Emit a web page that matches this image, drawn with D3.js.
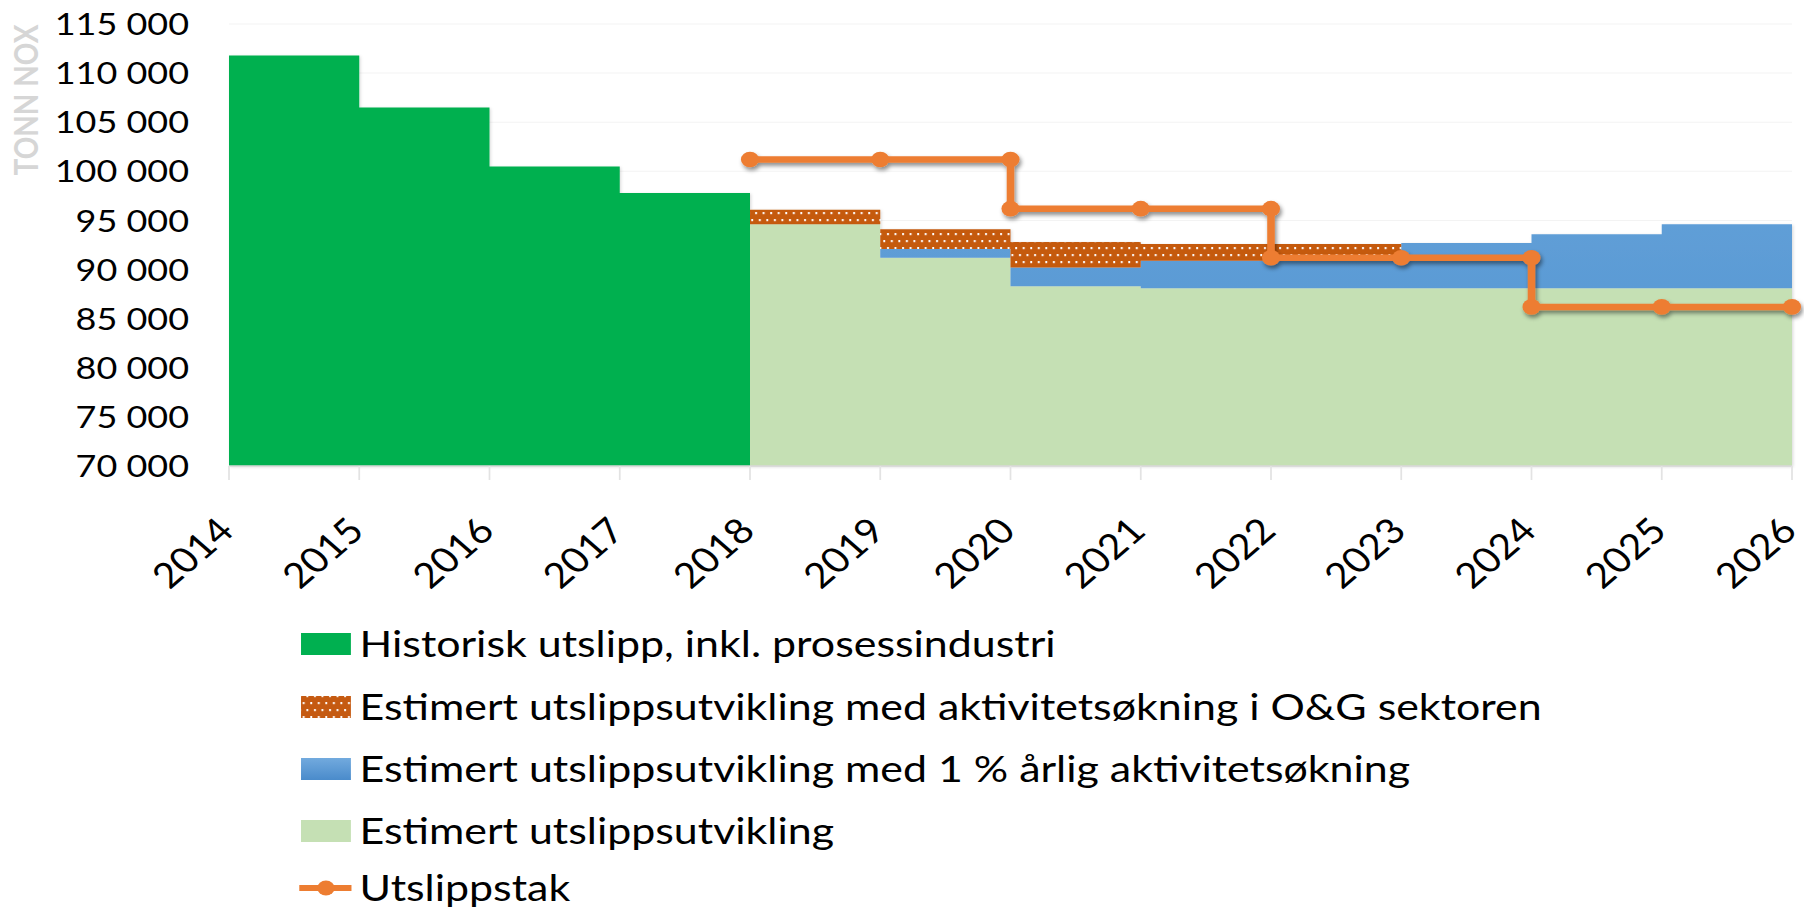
<html lang="en">
<head>
<meta charset="utf-8">
<script src="https://cdn.jsdelivr.net/npm/d3@7"></script>
<style>
body{margin:0;background:#fff;}
svg{display:block;font-family:Lato,"Open Sans",sans-serif;}
</style>
</head>
<body>
<div id="chart"></div>
<script>
// data
const years=[2014,2015,2016,2017,2018,2019,2020,2021,2022,2023,2024,2025,2026]
const historisk=[111800,106500,100500,97800,0,0,0,0,0,0,0,0,0]
const estimert=[0,0,0,0,94600,91200,88300,88100,88100,88100,88100,88100,88100]
// increments stacked on top of estimert
const ettProsent=[0,0,0,0,0,900,1900,2800,2900,4600,5500,6500,6500]
const oljeGass=[0,0,0,0,1500,2000,2600,1700,1600,0,0,0,0]
// emission cap, with the drop points twice
const takYear=[2018,2019,2020,2020,2021,2022,2022,2023,2024,2024,2025,2026]
const takVal=[101200,101200,101200,96200,96200,96200,91200,91200,91200,86200,86200,86200]
const yTicks=[70000,75000,80000,85000,90000,95000,100000,105000,110000,115000]
const legendNames=["Historisk utslipp, inkl. prosessindustri","Estimert utslippsutvikling med aktivitetsøkning i O&G sektoren","Estimert utslippsutvikling med 1 % årlig aktivitetsøkning","Estimert utslippsutvikling","Utslippstak"]

const W=1804,H=911
const SX=1.16 // the original picture is stretched sideways
const pLeft=229/SX,pRight=1792/SX,pTop=24,pBottom=466

const svg=d3.select("#chart").append("svg").attr("width",W).attr("height",H)
const defs=svg.append("defs")
let pat=defs.append("pattern").attr("id","dots").attr("patternUnits","userSpaceOnUse").attr("width",6.5).attr("height",14)
pat.append("rect").attr("width",6.5).attr("height",14).attr("fill","#C55A11")
pat.append("rect").attr("x",1).attr("y",2).attr("width",1.6).attr("height",2.2).attr("fill","#fff")
pat.append("rect").attr("x",4.2).attr("y",9).attr("width",1.6).attr("height",2.2).attr("fill","#fff")
let grad=defs.append("linearGradient").attr("id","blueg").attr("x1",0).attr("y1",0).attr("x2",0).attr("y2",1)
grad.append("stop").attr("offset","0%").attr("stop-color","#6CA7DC")
grad.append("stop").attr("offset","100%").attr("stop-color","#5B9BD5")
let lgrad=defs.append("linearGradient").attr("id","bluel").attr("x1",0).attr("y1",0).attr("x2",0).attr("y2",1)
lgrad.append("stop").attr("offset","0%").attr("stop-color","#72AADE")
lgrad.append("stop").attr("offset","100%").attr("stop-color","#4A8BCB")
defs.append("filter").attr("id","shadow").attr("x","-20%").attr("y","-20%").attr("width","140%").attr("height","160%")
  .append("feDropShadow").attr("dx",1.5).attr("dy",3).attr("stdDeviation",2).attr("flood-color","#000").attr("flood-opacity",0.45)
defs.append("filter").attr("id","soft").attr("x","-5%").attr("y","-5%").attr("width","110%").attr("height","110%")
  .append("feDropShadow").attr("dx",1).attr("dy",1).attr("stdDeviation",1.5).attr("flood-color","#000").attr("flood-opacity",0.15)

const g=svg.append("g").attr("transform","scale("+SX+",1)")

const x=d3.scaleLinear().domain([2014,2026]).range([pLeft,pRight])
const y=d3.scaleLinear().domain([70000,115000]).range([pBottom,pTop]).clamp(true)

// gridlines
g.append("g").selectAll("line").data(yTicks).join("line")
  .attr("x1",pLeft).attr("x2",pRight).attr("y1",d=>y(d)).attr("y2",d=>y(d))
  .attr("stroke","#f3f3f3").attr("stroke-width",1)

// stacked areas
const rows=years.map((yr,i)=>({year:yr,hist:historisk[i],est:estimert[i],pct:ettProsent[i],og:oljeGass[i]}))
const stack=d3.stack().keys(["hist","est","pct","og"])(rows)
const fills={hist:"#00B050",est:"#C5E0B4",pct:"url(#blueg)",og:"url(#dots)"}
const area=d3.area().curve(d3.curveStepAfter).x(d=>x(d.data.year)).y0(d=>y(d[0])).y1(d=>y(d[1]))
g.append("g").attr("filter","url(#soft)").selectAll("path").data(stack).join("path")
  .attr("d",area).attr("fill",d=>fills[d.key])

// x axis
g.append("line").attr("x1",pLeft).attr("x2",pRight).attr("y1",pBottom).attr("y2",pBottom).attr("stroke","#d9d9d9").attr("stroke-width",1.5)
g.append("g").selectAll("line").data(years).join("line")
  .attr("x1",d=>x(d)).attr("x2",d=>x(d)).attr("y1",pBottom).attr("y2",pBottom+14).attr("stroke","#e3e3e3").attr("stroke-width",1.5)
g.append("g").selectAll("text").data(years).join("text")
  .attr("transform",d=>"translate("+(x(d)+6)+",533) rotate(-45)")
  .attr("text-anchor","end").style("font-size","35px").attr("fill","#000").text(d=>d)

// y axis labels
const fmt=v=>d3.format(",")(v).replace(","," ")
g.append("g").selectAll("text").data(yTicks).join("text")
  .attr("x",163).attr("y",d=>y(d)).attr("dy","0.36em").attr("text-anchor","end")
  .style("font-size","31px").attr("fill","#000").text(fmt)
g.append("text").attr("transform","translate(23,100) rotate(-90)").attr("text-anchor","middle").attr("dy","0.36em")
  .style("font-size","28px").style("font-weight","bold").attr("fill","#d6d6d6").text("TONN NOX")

// cap line
const line=d3.line().x((d,i)=>x(takYear[i])).y(d=>y(d))
const cap=g.append("g").attr("filter","url(#shadow)")
cap.append("path").attr("d",line(takVal)).attr("fill","none").attr("stroke","#ED7D31").attr("stroke-width",6.5)
cap.selectAll("ellipse").data(takVal).join("ellipse")
  .attr("cx",(d,i)=>x(takYear[i])).attr("cy",d=>y(d)).attr("rx",7.8).attr("ry",7.8).attr("fill","#ED7D31")

// legend
const lg=g.append("g")
const swFill=["#00B050","url(#dots)","url(#bluel)","#C5E0B4"]
const rowY=[644,707,769,831,888]
legendNames.forEach((n,i)=>{
  if(i<4){lg.append("rect").attr("x",259.5).attr("y",rowY[i]-11).attr("width",43).attr("height",22).attr("fill",swFill[i])}
  else{
    lg.append("line").attr("x1",258).attr("x2",303).attr("y1",rowY[i]).attr("y2",rowY[i]).attr("stroke","#ED7D31").attr("stroke-width",6)
    lg.append("ellipse").attr("cx",281).attr("cy",rowY[i]).attr("rx",7.5).attr("ry",7.5).attr("fill","#ED7D31")
  }
  lg.append("text").attr("x",310).attr("y",rowY[i]).attr("dy","0.35em").style("font-size","37px").attr("fill","#000").text(n)
})
</script>
</body>
</html>
